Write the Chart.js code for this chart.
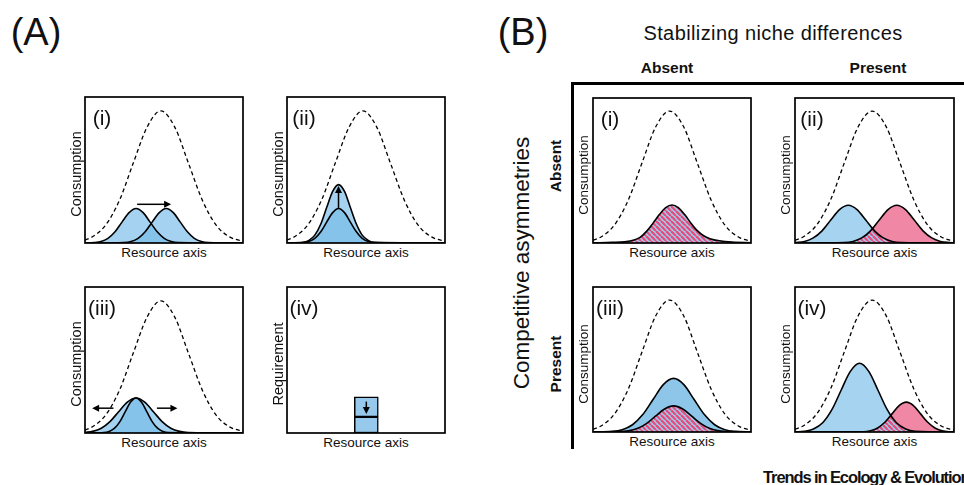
<!DOCTYPE html>
<html>
<head>
<meta charset="utf-8">
<script src="https://cdn.jsdelivr.net/npm/chart.js@4"></script>
<style>
  body { margin: 0; background: #fff; }
  #fig { position: relative; width: 964px; height: 485px; overflow: hidden; font-family: "Liberation Sans", Arial, sans-serif; color: #111; }
  .t { position: absolute; white-space: nowrap; line-height: 1; transform: translate(-50%, -50%); }
  .rot { transform: translate(-50%, -50%) rotate(-90deg); }
  .b { font-weight: bold; }
  canvas { position: absolute; }
  .rule { position: absolute; background: #000; }
</style>
</head>
<body>
<div id="fig">
  <div class="t" style="left:36px;top:32px;font-size:38px">(A)</div>
  <div class="t" style="left:523px;top:32px;font-size:38px">(B)</div>
  <div class="t" style="left:773px;top:33px;font-size:20px;letter-spacing:0.4px">Stabilizing niche differences</div>
  <div class="t b" style="left:667px;top:68px;font-size:15.5px">Absent</div>
  <div class="t b" style="left:878px;top:68px;font-size:15.5px">Present</div>
  <div class="t rot" style="left:522px;top:263px;font-size:22.5px">Competitive asymmetries</div>
  <div class="t b rot" style="left:556px;top:166px;font-size:15.5px">Absent</div>
  <div class="t b rot" style="left:556px;top:364px;font-size:15.5px">Present</div>
  <div class="rule" style="left:571px;top:82px;width:393px;height:2.5px"></div>
  <div class="rule" style="left:571px;top:82px;width:2.5px;height:367px"></div>
  <div class="b" style="position:absolute;left:763px;top:469px;font-size:16.5px;line-height:1;white-space:nowrap;letter-spacing:-1.1px">Trends in Ecology &amp; Evolution</div>
</div>

<script>
// ── Data (panel units: x = resource axis 0..1, y = height 0..1) ───────────

// dashed resource supply curves
const supplyA_x = [0, 0.043, 0.13, 0.218, 0.305, 0.393, 0.48, 0.568, 0.655, 0.743, 0.83, 0.918, 1];
const supplyA_y = [0.02, 0.04, 0.122, 0.292, 0.546, 0.794, 0.905, 0.794, 0.546, 0.292, 0.122, 0.04, 0.012];
const supplyB_x = [0, 0.048, 0.135, 0.223, 0.31, 0.398, 0.485, 0.573, 0.66, 0.748, 0.835, 0.923, 1];
const supplyB_y = [0.02, 0.04, 0.123, 0.295, 0.552, 0.803, 0.91, 0.803, 0.552, 0.295, 0.123, 0.04, 0.012];

// A(i) niche shift
const a1Left_x  = [0, 0.056, 0.101, 0.145, 0.19, 0.234, 0.279, 0.323, 0.368, 0.412, 0.457, 0.501, 0.546, 0.59, 1];
const a1Left_y  = [0, 0.003, 0.010, 0.032, 0.077, 0.143, 0.208, 0.236, 0.208, 0.143, 0.077, 0.032, 0.010, 0.003, 0];
const a1Right_x = [0, 0.247, 0.292, 0.336, 0.381, 0.425, 0.470, 0.514, 0.559, 0.603, 0.648, 0.692, 0.737, 0.781, 1];
const a1Right_y = [0, 0.003, 0.010, 0.032, 0.077, 0.143, 0.208, 0.236, 0.208, 0.143, 0.077, 0.032, 0.010, 0.003, 0];

// A(ii) higher consumption
const a2_x      = [0, 0.101, 0.139, 0.176, 0.214, 0.251, 0.289, 0.326, 0.364, 0.401, 0.439, 0.476, 0.514, 0.551, 1];
const a2Outer_y = [0, 0.004, 0.018, 0.054, 0.130, 0.243, 0.353, 0.40, 0.353, 0.243, 0.130, 0.054, 0.018, 0.004, 0];
const a2Inner_y = [0, 0.003, 0.010, 0.032, 0.077, 0.143, 0.208, 0.236, 0.208, 0.143, 0.077, 0.032, 0.010, 0.003, 0];

// A(iii) niche broadening
const a3Narrow_x = [0, 0.119, 0.153, 0.187, 0.221, 0.255, 0.289, 0.323, 0.357, 0.391, 0.425, 0.459, 0.493, 0.527, 1];
const a3Narrow_y = [0, 0.003, 0.011, 0.033, 0.078, 0.146, 0.212, 0.24, 0.212, 0.146, 0.078, 0.033, 0.011, 0.003, 0];
const a3Wide_x   = [0, 0.048, 0.103, 0.158, 0.213, 0.268, 0.323, 0.378, 0.433, 0.488, 0.543, 0.598, 0.653, 1];
const a3Wide_y   = [0.004, 0.011, 0.033, 0.078, 0.146, 0.212, 0.24, 0.212, 0.146, 0.078, 0.033, 0.011, 0.003, 0];

// A(iv) lower requirement
const a4Pos = 0.503;
const a4Lower = [0, 0.11];
const a4Upper = [0.11, 0.247];

// B(i)
const b1Shared_x = [0, 0.12, 0.2, 0.26, 0.3, 0.34, 0.38, 0.42, 0.46, 0.5, 0.54, 0.58, 0.62, 0.66, 0.7, 0.74, 0.8, 0.88, 1];
const b1Shared_y = [0.001, 0.004, 0.008, 0.02, 0.04, 0.082, 0.137, 0.196, 0.244, 0.262, 0.244, 0.196, 0.137, 0.085, 0.05, 0.03, 0.015, 0.006, 0.002];

// B(ii)
const b2Blue_x   = [0, 0.06, 0.115, 0.17, 0.225, 0.28, 0.335, 0.39, 0.445, 0.5, 0.555, 0.61, 0.665, 1];
const b2Blue_y   = [0.003, 0.011, 0.035, 0.084, 0.158, 0.23, 0.26, 0.23, 0.158, 0.084, 0.035, 0.011, 0.003, 0];
const b2Pink_x   = [0, 0.31, 0.365, 0.42, 0.475, 0.53, 0.585, 0.64, 0.695, 0.75, 0.805, 0.86, 0.915, 0.97, 1];
const b2Pink_y   = [0, 0.003, 0.011, 0.035, 0.084, 0.158, 0.23, 0.26, 0.23, 0.158, 0.084, 0.035, 0.011, 0.003, 0.001];
const b2Shared_x = [0.31, 0.365, 0.42, 0.475, 0.488, 0.5, 0.555, 0.61, 0.665];
const b2Shared_y = [0.003, 0.011, 0.035, 0.084, 0.099, 0.084, 0.035, 0.011, 0.003];

// B(iii)
const b3Blue_x   = [0, 0.12, 0.185, 0.25, 0.315, 0.38, 0.445, 0.51, 0.575, 0.64, 0.705, 0.77, 0.835, 0.9, 1];
const b3Blue_y   = [0, 0.004, 0.016, 0.05, 0.12, 0.224, 0.327, 0.37, 0.327, 0.224, 0.12, 0.05, 0.016, 0.004, 0];
const b3Shared_x = [0, 0.165, 0.223, 0.28, 0.338, 0.395, 0.453, 0.51, 0.568, 0.625, 0.683, 0.74, 0.798, 0.855, 1];
const b3Shared_y = [0, 0.002, 0.008, 0.024, 0.058, 0.109, 0.159, 0.18, 0.159, 0.109, 0.058, 0.024, 0.008, 0.002, 0];

// B(iv)
const b4Blue_x   = [0, 0.058, 0.116, 0.174, 0.232, 0.29, 0.348, 0.406, 0.464, 0.522, 0.58, 0.638, 0.696, 0.754, 1];
const b4Blue_y   = [0.001, 0.005, 0.021, 0.064, 0.154, 0.288, 0.418, 0.474, 0.418, 0.288, 0.154, 0.064, 0.021, 0.005, 0];
const b4Pink_x   = [0, 0.43, 0.475, 0.52, 0.565, 0.61, 0.655, 0.70, 0.745, 0.79, 0.835, 0.88, 0.925, 0.97, 1];
const b4Pink_y   = [0, 0.002, 0.009, 0.028, 0.067, 0.125, 0.182, 0.206, 0.182, 0.125, 0.067, 0.028, 0.009, 0.002, 0.001];
const b4Shared_x = [0.43, 0.475, 0.52, 0.565, 0.602, 0.638, 0.696, 0.754, 0.82];
const b4Shared_y = [0.002, 0.009, 0.028, 0.067, 0.113, 0.064, 0.021, 0.005, 0.002];

// arrows [x0, y0, x1, y1] in panel units
const a1Arrows = [[0.33, 0.265, 0.545, 0.265]];
const a2Arrows = [[0.326, 0.236, 0.326, 0.39]];
const a3Arrows = [[0.18, 0.17, 0.045, 0.17], [0.455, 0.17, 0.585, 0.17]];
const a4Arrows = [[0.503, 0.215, 0.503, 0.13]];

// ── Styling ────────────────────────────────────────────────────────────────

const BLUE_A  = 'rgba(121,188,233,0.68)';
const BLUE_B  = '#a6d3f0';
const BLUE_B3 = '#8ec6ea';
const PINK    = '#ef87a5';

const fig = document.getElementById('fig');
const pts = (xs, ys) => xs.map((x, i) => ({ x, y: ys[i] }));

function hatch() {
  const c = document.createElement('canvas');
  c.width = 5; c.height = 5;
  const g = c.getContext('2d');
  g.fillStyle = '#9ccbec';
  g.fillRect(0, 0, 5, 5);
  g.strokeStyle = '#e8497b';
  g.lineWidth = 2.2;
  for (const off of [-5, 0, 5]) {
    g.beginPath(); g.moveTo(off, 0); g.lineTo(off + 5, 5); g.stroke();
  }
  return g.createPattern(c, 'repeat');
}
const HATCH = hatch();

const curve = (xs, ys, fill, border = 1.6) => ({
  data: pts(xs, ys),
  borderColor: border ? '#000' : 'transparent',
  borderWidth: border,
  backgroundColor: fill,
  fill: 'origin',
});
const dashed = (xs, ys) => ({
  data: pts(xs, ys),
  borderColor: '#000',
  borderWidth: 1.3,
  borderDash: [4, 3],
  fill: false,
});

function addText(txt, x, y, size, rot) {
  const d = document.createElement('div');
  d.className = 't' + (rot ? ' rot' : '');
  d.style.left = x + 'px';
  d.style.top = y + 'px';
  d.style.fontSize = size + 'px';
  d.textContent = txt;
  fig.appendChild(d);
}

function panel(box, tag, yTitle, datasets, arrows = [], type = 'line') {
  const [x, y, w, h] = box;
  const pad = 2;
  const cv = document.createElement('canvas');
  cv.width = w + pad * 2; cv.height = h + pad * 2;
  cv.style.left = (x - pad) + 'px'; cv.style.top = (y - pad) + 'px';
  fig.appendChild(cv);

  const inB = x > 500;
  addText(tag, x + 17, y + 20, 21);
  addText('Resource axis', x + w / 2, y + h + 10, 13.5);
  addText(yTitle, x - 9, y + h / 2 + 4, inB ? 13.5 : 14.5, true);

  const frame = {
    id: 'frame',
    afterDatasetsDraw(chart) {
      const { ctx, chartArea: a, scales } = chart;
      ctx.save();
      ctx.strokeStyle = '#000';
      ctx.fillStyle = '#000';
      ctx.lineWidth = 1.7;
      ctx.strokeRect(a.left, a.top, a.width, a.height);
      ctx.lineWidth = 1.5;
      for (const [x0, y0, x1, y1] of arrows) {
        const px0 = scales.x.getPixelForValue(x0), py0 = scales.y.getPixelForValue(y0);
        const px1 = scales.x.getPixelForValue(x1), py1 = scales.y.getPixelForValue(y1);
        const ang = Math.atan2(py1 - py0, px1 - px0);
        const c = Math.cos(ang), s = Math.sin(ang), hl = 7, hw = 3.5;
        ctx.beginPath();
        ctx.moveTo(px0, py0);
        ctx.lineTo(px1 - hl * c * 0.7, py1 - hl * s * 0.7);
        ctx.stroke();
        ctx.beginPath();
        ctx.moveTo(px1, py1);
        ctx.lineTo(px1 - hl * c + hw * s, py1 - hl * s - hw * c);
        ctx.lineTo(px1 - hl * c - hw * s, py1 - hl * s + hw * c);
        ctx.closePath();
        ctx.fill();
      }
      ctx.restore();
    }
  };

  new Chart(cv, {
    type,
    data: { datasets },
    options: {
      responsive: false,
      animation: false,
      events: [],
      layout: { padding: pad },
      elements: { point: { radius: 0 }, line: { cubicInterpolationMode: 'monotone' } },
      plugins: { legend: { display: false }, tooltip: { enabled: false }, filler: { drawTime: 'beforeDatasetsDraw' } },
      scales: {
        x: { type: 'linear', min: 0, max: 1, display: false },
        y: { min: 0, max: 1, display: false },
      },
    },
    plugins: [frame],
  });
}

// ── (A) panels ─────────────────────────────────────────────────────────────

panel([85, 97, 158, 146], '(i)', 'Consumption', [
  curve(a1Left_x, a1Left_y, BLUE_A),
  curve(a1Right_x, a1Right_y, BLUE_A),
  dashed(supplyA_x, supplyA_y),
], a1Arrows);

panel([287, 97, 158, 146], '(ii)', 'Consumption', [
  curve(a2_x, a2Inner_y, BLUE_A),
  curve(a2_x, a2Outer_y, BLUE_A),
  dashed(supplyA_x, supplyA_y),
], a2Arrows);

panel([85, 287, 158, 146], '(iii)', 'Consumption', [
  curve(a3Narrow_x, a3Narrow_y, BLUE_A),
  curve(a3Wide_x, a3Wide_y, BLUE_A),
  dashed(supplyA_x, supplyA_y),
], a3Arrows);

panel([287, 287, 158, 146], '(iv)', 'Requirement', [
  { data: [{ x: a4Pos, y: a4Lower }], backgroundColor: '#96c9ec', borderColor: '#000', borderWidth: 1.5, borderSkipped: false, barThickness: 24, grouped: false },
  { data: [{ x: a4Pos, y: a4Upper }], backgroundColor: '#96c9ec', borderColor: '#000', borderWidth: 1.5, borderSkipped: false, barThickness: 24, grouped: false },
], a4Arrows, 'bar');

// ── (B) panels ─────────────────────────────────────────────────────────────

panel([593, 98, 158, 145], '(i)', 'Consumption', [
  curve(b1Shared_x, b1Shared_y, HATCH),
  dashed(supplyB_x, supplyB_y),
]);

panel([795, 98, 159, 145], '(ii)', 'Consumption', [
  curve(b2Shared_x, b2Shared_y, HATCH, 0),
  curve(b2Blue_x, b2Blue_y, BLUE_B),
  curve(b2Pink_x, b2Pink_y, PINK),
  dashed(supplyB_x, supplyB_y),
]);

panel([593, 287, 158, 145], '(iii)', 'Consumption', [
  curve(b3Shared_x, b3Shared_y, HATCH),
  curve(b3Blue_x, b3Blue_y, BLUE_B3),
  dashed(supplyB_x, supplyB_y),
]);

panel([795, 287, 159, 145], '(iv)', 'Consumption', [
  curve(b4Shared_x, b4Shared_y, HATCH, 0),
  curve(b4Blue_x, b4Blue_y, BLUE_B),
  curve(b4Pink_x, b4Pink_y, PINK),
  dashed(supplyB_x, supplyB_y),
]);
</script>
</body>
</html>
